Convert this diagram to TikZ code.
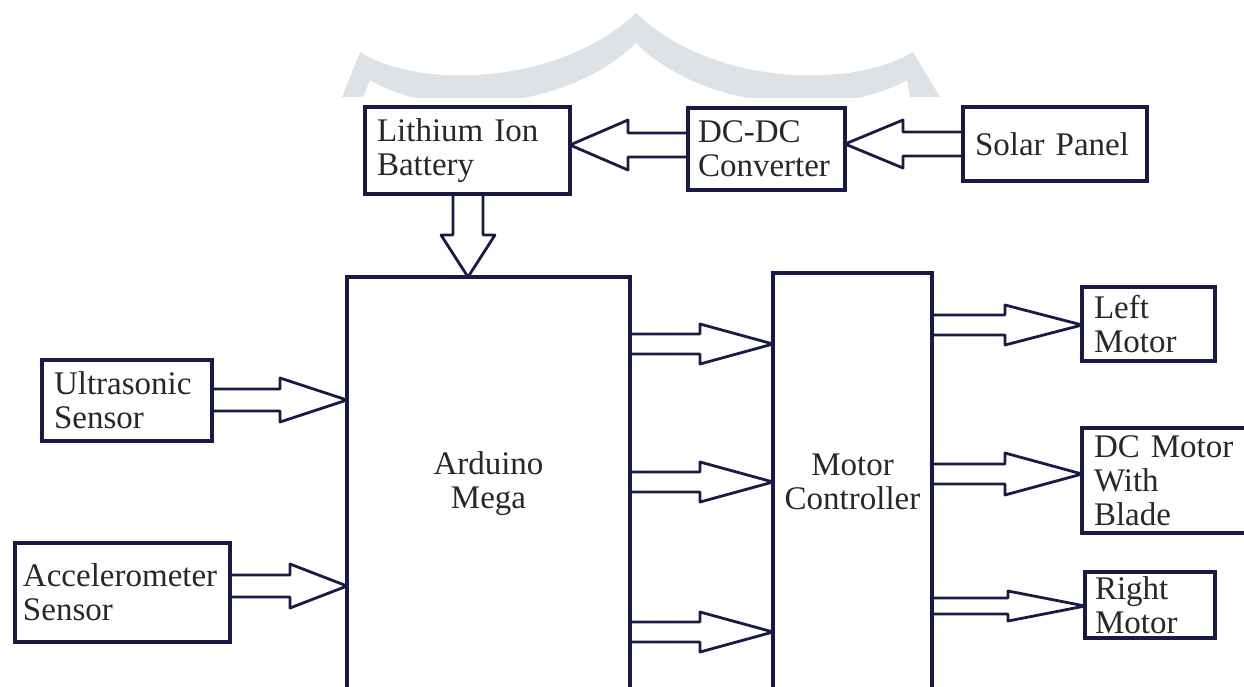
\documentclass[tikz,border=0pt]{standalone}
\usepackage{fontspec}
\setmainfont{Liberation Serif}
\usetikzlibrary{calc}
\definecolor{ln}{RGB}{26,26,70}
\definecolor{tx}{RGB}{40,40,40}
\definecolor{wm}{RGB}{220,226,230}
\tikzset{
  blk/.style={draw=ln, line width=3.2pt, outer sep=0pt, inner xsep=12pt, inner ysep=0pt,
    text=tx, font={\fontsize{33}{34}\selectfont\hyphenpenalty=10000\exhyphenpenalty=10000},
    align=left, anchor=north west},
  arr/.style={draw=ln, line width=2.8pt, line join=round},
}
\newcommand\blockarr[5]{%
  \coordinate (hb) at ($(#2)!#5pt!(#1)$);
  \draw[arr] ($(#1)!#3pt!90:(#2)$) -- ($(hb)!#3pt!90:(#2)$) -- ($(hb)!#4pt!90:(#2)$) -- (#2)
    -- ($(hb)!#4pt!-90:(#2)$) -- ($(hb)!#3pt!-90:(#2)$) -- ($(#1)!#3pt!-90:(#2)$);}
\newcommand\harr[6]{%
  \coordinate (yk) at (0,#3);
  \coordinate (tl) at (#1 |- yk);
  \coordinate (tp) at (#2 |- yk);
  \blockarr{tl}{tp}{#4}{#5}{#6}}
\newcommand\varr[6]{%
  \coordinate (xk) at (#3,0);
  \coordinate (tl) at (#1 -| xk);
  \coordinate (tp) at (#2 -| xk);
  \blockarr{tl}{tp}{#4}{#5}{#6}}
\begin{document}
\begin{tikzpicture}[x=1pt,y=-1pt]
\useasboundingbox[fill=white] (0,0) rectangle (1244,686);
% faint watermark band
\begin{scope}
  \clip (0,0) rectangle (1244,97);
  \fill[wm] (342,97) -- (360,52) .. controls (420,90) and (560,85) .. (636,13)
    .. controls (710,85) and (850,90) .. (913,52) -- (940,97) -- (910,97) -- (907,80)
    .. controls (840,118) and (705,112) .. (636,43)
    .. controls (565,112) and (430,118) .. (370,80) -- (363,97) -- cycle;
\end{scope}
% boxes
\node[blk, minimum width=205pt, minimum height=87pt, text width=181pt] (bat) at (365,107) {Lithium Ion\\Battery};
\node[blk, minimum width=157pt, minimum height=82pt, text width=137pt, inner xsep=10pt] (dc) at (688,108) {DC-DC\\Converter};
\node[blk, minimum width=184pt, minimum height=74pt, text width=160pt] (sol) at (963,107) {Solar Panel};
\node[blk, align=center, minimum width=283pt, minimum height=413pt, text width=259pt] (ard) at (347,277) {Arduino\\Mega};
\node[blk, align=center, minimum width=159pt, minimum height=417pt, text width=143pt, inner xsep=8pt] (mc) at (773,273) {Motor\\Controller};
\node[blk, minimum width=133pt, minimum height=74pt, text width=109pt] (lm) at (1082,287) {Left\\Motor};
\node[blk, minimum width=183pt, minimum height=105pt, text width=159pt] (dcm) at (1082,428) {DC Motor\\With\\Blade};
\node[blk, minimum width=130pt, minimum height=66pt, text width=110pt, inner xsep=10pt] (rm) at (1085,572) {Right\\Motor};
\node[blk, minimum width=170pt, minimum height=81pt, text width=146pt] (us) at (42,360) {Ultrasonic\\Sensor};
\node[blk, minimum width=215pt, minimum height=99pt, text width=199pt, inner xsep=8pt] (acc) at (15,543) {Accelerometer\\Sensor};
% block arrows
\varr{bat.south}{ard.north}{468}{15}{27}{42}
\harr{dc.west}{bat.east}{145}{12}{25}{58}
\harr{sol.west}{dc.east}{144}{12}{24}{58}
\harr{us.east}{ard.west}{400}{11}{22}{67}
\harr{acc.east}{ard.west}{586}{11}{22}{57}
\harr{ard.east}{mc.west}{344}{10}{20}{73}
\harr{ard.east}{mc.west}{482}{10}{20}{73}
\harr{ard.east}{mc.west}{632}{10}{20}{73}
\harr{mc.east}{lm.west}{325}{10}{20}{77}
\harr{mc.east}{dcm.west}{474}{10}{21}{77}
\harr{mc.east}{rm.west}{606}{8}{15}{77}
\end{tikzpicture}
\end{document}
